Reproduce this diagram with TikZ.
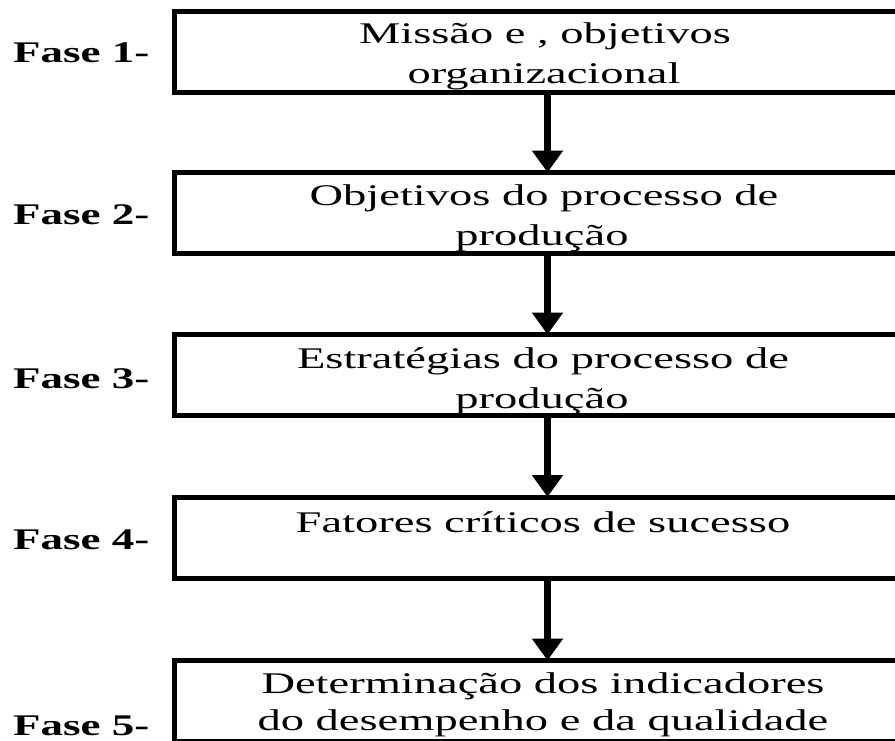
\documentclass[tikz,border=0pt]{standalone}
\usepackage{fontspec}
\setmainfont{Liberation Serif}
\newfontfamily\boxfont[FakeStretch=1.55]{Liberation Serif}
\newfontfamily\fasefont[FakeStretch=1.5]{Liberation Serif}
\usetikzlibrary{arrows.meta}
\begin{document}
\begin{tikzpicture}[x=1pt,y=-1pt,
  stage/.style={draw, line width=5pt, minimum width=746pt, minimum height=81pt, inner sep=0pt, outer sep=0pt, anchor=north west},
  txt/.style={anchor=base, inner sep=0pt, font=\boxfont\fontsize{30}{36}\selectfont},
  fase/.style={anchor=base west, inner sep=0pt, font=\fasefont\bfseries\fontsize{30}{36}\selectfont},
  flow/.style={line width=7pt, -{Triangle[width=30pt,length=22pt]}}]
\useasboundingbox (0,0) rectangle (895,740);
\node[stage] (b1) at (174.5,11.5) {};
\node[stage] (b2) at (174.5,172.5) {};
\node[stage] (b3) at (174.5,334.5) {};
\node[stage] (b4) at (174.5,497) {};
\node[stage] (b5) at (174.5,660.5) {};
\draw[flow] (b1.south) -- (b2.north);
\draw[flow] (b2.south) -- (b3.north);
\draw[flow] (b3.south) -- (b4.north);
\draw[flow] (b4.south) -- (b5.north);
\node[txt] (t1a) at (545,43) {Missão e , objetivos};
\node[txt] (t1b) at (544,83) {organizacional};
\node[txt] (t2a) at (544,205) {Objetivos do processo de};
\node[txt] (t2b) at (542,245) {produção};
\node[txt] (t3a) at (543,368) {Estratégias do processo de};
\node[txt] (t3b) at (542,408) {produção};
\node[txt] (t4a) at (543,532) {Fatores críticos de sucesso};
\node[txt] (t5a) at (543,693) {Determinação dos indicadores};
\node[txt] (t5b) at (543,730) {do desempenho e da qualidade};
\node[fase] (f1) at (13,62) {Fase 1-};
\node[fase] (f2) at (13,224) {Fase 2-};
\node[fase] (f3) at (13,388) {Fase 3-};
\node[fase] (f4) at (13,549) {Fase 4-};
\node[fase] (f5) at (13,735) {Fase 5-};
\end{tikzpicture}
\end{document}
